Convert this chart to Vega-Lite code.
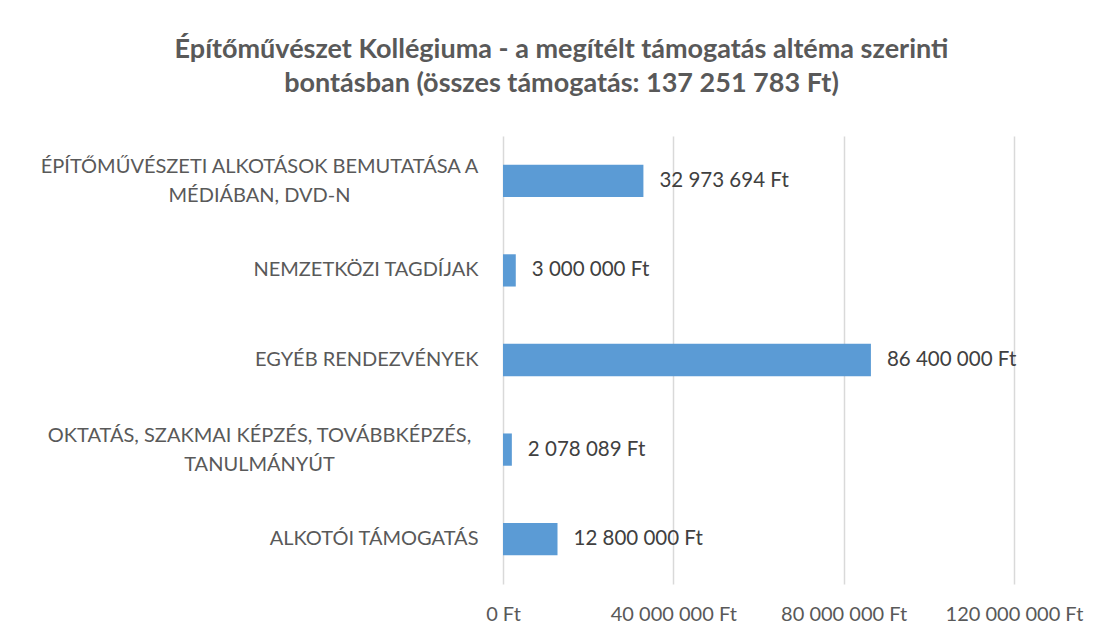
{
  "$schema": "https://vega.github.io/schema/vega-lite/v6.json",
  "width": 511,
  "height": 448,
  "autosize": "none",
  "padding": {"left": 503, "top": 136, "right": 91, "bottom": 57},
  "background": "white",
  "config": {
    "locale": {"number": {"decimal": ",", "thousands": " ", "grouping": [3], "currency": ["", " Ft"]}},
    "view": {"stroke": null},
    "font": "Lato"
  },
  "title": {
    "text": ["Építőművészet Kollégiuma - a megítélt támogatás altéma szerinti", "bontásban (összes támogatás: 137 251 783 Ft)"],
    "font": "Lato",
    "fontSize": 27,
    "fontWeight": "bold",
    "color": "#595959",
    "anchor": "middle",
    "dx": -197,
    "offset": 38,
    "lineHeight": 34
  },
  "data": {
    "values": [
      {"cat": "ÉPÍTŐMŰVÉSZETI ALKOTÁSOK BEMUTATÁSA A|MÉDIÁBAN, DVD-N", "value": 32973694},
      {"cat": "NEMZETKÖZI TAGDÍJAK", "value": 3000000},
      {"cat": "EGYÉB RENDEZVÉNYEK", "value": 86400000},
      {"cat": "OKTATÁS, SZAKMAI KÉPZÉS, TOVÁBBKÉPZÉS,|TANULMÁNYÚT", "value": 2078089},
      {"cat": "ALKOTÓI TÁMOGATÁS", "value": 12800000}
    ]
  },
  "encoding": {
    "y": {
      "field": "cat",
      "type": "nominal",
      "sort": null,
      "scale": {"paddingInner": 0.64, "paddingOuter": 0.32},
      "axis": {
        "title": null,
        "ticks": false,
        "domain": false,
        "labelPadding": {"condition": {"test": "indexof(datum.value, '|') >= 0", "value": 244}, "value": 25},
        "labelAlign": {"condition": {"test": "indexof(datum.value, '|') >= 0", "value": "center"}, "value": "right"},
        "labelOffset": {"condition": {"test": "indexof(datum.value, '|') >= 0", "value": -14}, "value": 0},
        "labelFontSize": 20,
        "labelColor": "#595959",
        "labelLimit": 600,
        "labelLineHeight": 29,
        "labelExpr": "split(datum.value, '|')"
      }
    },
    "x": {
      "field": "value",
      "type": "quantitative",
      "scale": {"domain": [0, 120000000], "nice": false},
      "axis": {
        "title": null,
        "values": [0, 40000000, 80000000, 120000000],
        "format": ",d",
        "labelExpr": "datum.label + ' Ft'",
        "ticks": false,
        "domain": false,
        "gridColor": "#D9D9D9",
        "gridWidth": 1.5,
        "labelPadding": 20,
        "labelFontSize": 20,
        "labelColor": "#595959",
        "labelFlush": false
      }
    }
  },
  "layer": [
    {"mark": {"type": "bar", "color": "#5B9BD5"}},
    {
      "mark": {"type": "text", "align": "left", "dx": 16, "fontSize": 20.5, "color": "#404040"},
      "encoding": {"text": {"field": "value", "type": "quantitative", "format": "$,d"}}
    }
  ]
}
